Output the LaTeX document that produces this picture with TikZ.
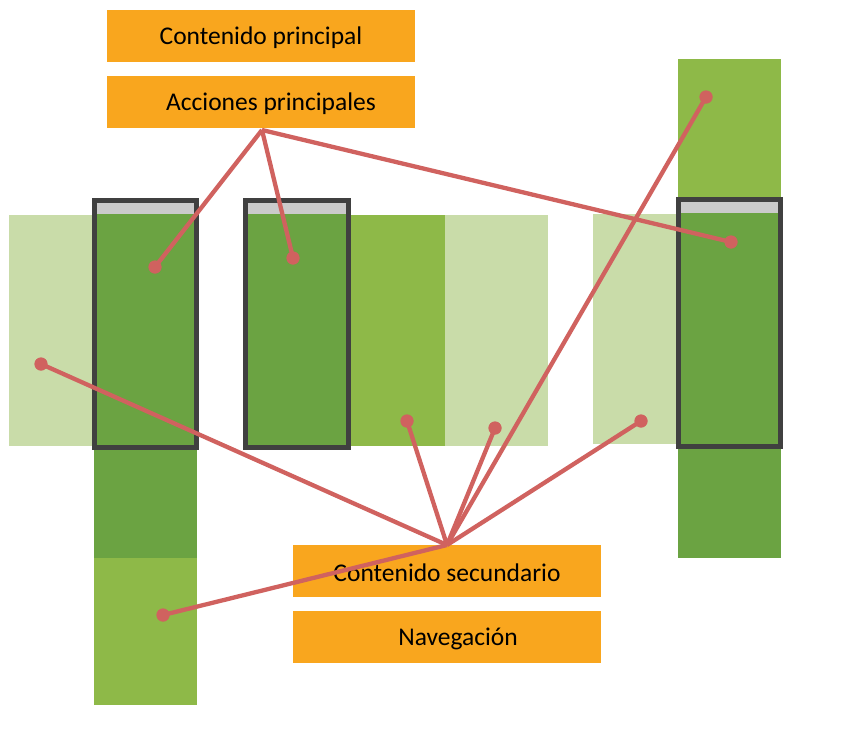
\documentclass[tikz,border=0pt]{standalone}
\usepackage{fontspec}
\setmainfont{Carlito}
\definecolor{orng}{HTML}{F9A61E}
\definecolor{lgreen}{HTML}{C9DCA9}
\definecolor{mgreen}{HTML}{8EB948}
\definecolor{dgreen}{HTML}{6BA342}
\definecolor{frame}{HTML}{404040}
\definecolor{bar}{HTML}{CBCBCB}
\definecolor{redl}{HTML}{D0625F}
\tikzset{
  blk/.style={rectangle, inner sep=0pt, outer sep=0pt, anchor=north west},
  label/.style={blk, fill=orng, minimum width=308pt, minimum height=52pt},
  txt/.style={font=\fontsize{25.5}{28}\selectfont, text=black, inner sep=0pt},
  phone/.style={draw=frame, line width=5pt},
  conn/.style={draw=redl, line width=4.3pt},
  dot/.style={circle, fill=redl, inner sep=0pt, minimum size=13pt},
}
\begin{document}
\begin{tikzpicture}[x=1pt,y=-1pt]
\useasboundingbox (0,0) rectangle (847,734);
% light green panels
\node[blk, fill=lgreen, minimum width=86pt, minimum height=231pt] (l1) at (9,215) {};
\node[blk, fill=lgreen, minimum width=103pt, minimum height=231pt] (l2) at (445,215) {};
\node[blk, fill=lgreen, minimum width=87pt, minimum height=230pt] (l3) at (593,214) {};
% medium green panels
\node[blk, fill=mgreen, minimum width=95pt, minimum height=231pt] (m1) at (350,215) {};
\node[blk, fill=mgreen, minimum width=103pt, minimum height=145pt] (m2) at (678,59) {};
\node[blk, fill=mgreen, minimum width=103pt, minimum height=147pt] (m3) at (94,558) {};
% dark green panels
\node[blk, fill=dgreen, minimum width=103pt, minimum height=358pt] (d1) at (94,200) {};
\node[blk, fill=dgreen, minimum width=105pt, minimum height=247pt] (d2) at (245,200) {};
\node[blk, fill=dgreen, minimum width=103pt, minimum height=358pt] (d3) at (678,200) {};
% gray top bars
\node[blk, fill=bar, minimum width=97pt, minimum height=12pt] (b1) at (97,202) {};
\node[blk, fill=bar, minimum width=99pt, minimum height=12pt] (b2) at (248,202) {};
\node[blk, fill=bar, minimum width=97pt, minimum height=12pt] (b3) at (681,201) {};
% frames
\node[blk, phone, minimum width=102pt, minimum height=247pt] (f1) at (94.5,200.5) {};
\node[blk, phone, minimum width=103pt, minimum height=247pt] (f2) at (245.5,200.5) {};
\node[blk, phone, minimum width=102pt, minimum height=247pt] (f3) at (678.5,199.5) {};
% orange labels
\node[label] (cp) at (107,10) {};
\node[txt] at (261,38) {Contenido principal};
\node[label] (ap) at (107,76) {};
\node[txt] at (271,104) {Acciones principales};
\node[label] (cs) at (293,545) {};
\node[txt] at (447,573) {Contenido secundario};
\node[label] (nv) at (293,611) {};
\node[txt] at (458,639) {Navegación};
% hubs and endpoints
\coordinate (h1) at (262,130);
\coordinate (h2) at (447,545);
\node[dot] (p1) at (155,267) {};
\node[dot] (p2) at (293,258) {};
\node[dot] (p3) at (731,242) {};
\node[dot] (q1) at (41,364) {};
\node[dot] (q2) at (407,421) {};
\node[dot] (q3) at (495,428) {};
\node[dot] (q4) at (706,97) {};
\node[dot] (q5) at (641,421) {};
\node[dot] (q6) at (163,615) {};
% connectors
\foreach \p in {p1,p2,p3} \draw[conn] (h1) -- (\p.center);
\foreach \q in {q1,q2,q3,q4,q5,q6} \draw[conn] (h2) -- (\q.center);
\foreach \p in {p1,p2,p3,q1,q2,q3,q4,q5,q6} \node[dot] at (\p) {};
\end{tikzpicture}
\end{document}
